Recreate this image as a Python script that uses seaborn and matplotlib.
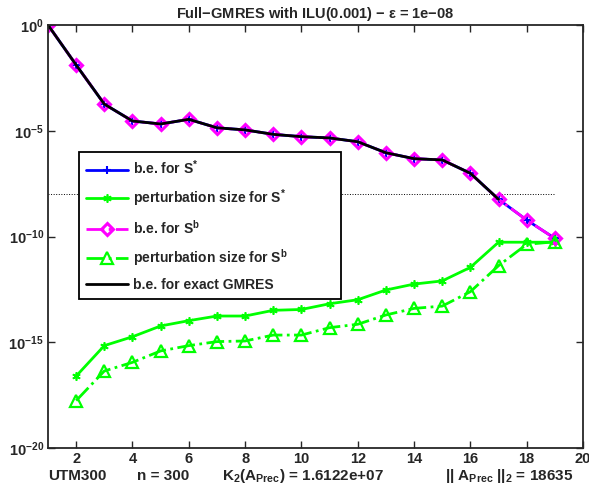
import numpy as np
import matplotlib
matplotlib.use("Agg")
import matplotlib.pyplot as plt
import seaborn as sns
from matplotlib.ticker import FixedLocator, FuncFormatter, NullLocator

# iterations and backward errors (log10 values)
iters = list(range(1, 20))
log_be_sstar = [0, -1.89, -3.74, -4.54, -4.68, -4.46, -4.86, -4.96, -5.17, -5.28,
                -5.34, -5.52, -6.04, -6.32, -6.38, -7.01, -8.24, -9.22, -10.09]
log_be_sb = [0, -1.89, -3.74, -4.54, -4.68, -4.46, -4.86, -4.96, -5.17, -5.28,
             -5.34, -5.52, -6.04, -6.32, -6.38, -7.01, -8.24, -9.22, -10.09]
iters_pert = list(range(2, 20))
log_pert_sstar = [-16.6, -15.16, -14.74, -14.23, -13.98, -13.76, -13.76, -13.49, -13.45,
                  -13.18, -12.99, -12.53, -12.25, -12.10, -11.46, -10.27, -10.27, -10.27]
log_pert_sb = [-17.76, -16.36, -15.95, -15.41, -15.16, -14.97, -14.94, -14.66, -14.66,
               -14.31, -14.15, -13.71, -13.40, -13.29, -12.61, -11.38, -10.37, -10.25]
iters_exact = list(range(1, 18))
log_be_exact = log_be_sstar[:17]
eps = 1e-8

xticks = [2, 4, 6, 8, 10, 12, 14, 16, 18, 20]
yticks = [1e-20, 1e-15, 1e-10, 1e-5, 1e0]

sns.set_style("ticks")
plt.rcParams['font.family'] = ['Liberation Sans', 'DejaVu Sans']
plt.rcParams['font.weight'] = 'bold'
plt.rcParams['mathtext.fontset'] = 'custom'
plt.rcParams['mathtext.rm'] = 'Liberation Sans:bold'
plt.rcParams['mathtext.bf'] = 'Liberation Sans:bold'
plt.rcParams['mathtext.it'] = 'Liberation Sans:bold'

fig = plt.figure(figsize=(5.89, 4.95), dpi=100)
ax = fig.add_axes([48/589, 1 - 448/495, 535/589, 423/495])

ax.plot([1, 19], [eps, eps], color='black', linestyle=':', linewidth=0.7)

# (x, y, label, color, linestyle, marker, size, edge width, face)
series = [
    (iters, log_be_sstar, 'b.e. for S$^{*}$', '#0000ff', '-', '+', 6, 1.5, '#0000ff'),
    (iters_pert, log_pert_sstar, 'perturbation size for S$^{*}$', '#00ff00', '-', (6, 2, 0), 6, 1.2, '#00ff00'),
    (iters, log_be_sb, 'b.e. for S$^{b}$', '#ff00ff', '-.', 'D', 6, 2.2, 'none'),
    (iters_pert, log_pert_sb, 'perturbation size for S$^{b}$', '#00ff00', '-.', '^', 8, 1.6, 'none'),
    (iters_exact, log_be_exact, 'b.e. for exact GMRES', 'black', '-', None, 0, 0, 'black'),
]
for x, ly, lab, col, ls, mk, ms, mew, mfc in series:
    n_before = len(ax.lines)
    sns.lineplot(x=x, y=10**np.array(ly), ax=ax, color=col, label=lab)
    line = ax.lines[n_before]
    line.set_linestyle(ls)
    line.set_linewidth(2)
    if mk is not None:
        line.set_marker(mk)
        line.set_markersize(ms)
        line.set_markeredgewidth(mew)
        line.set_markeredgecolor(col)
        line.set_markerfacecolor(mfc)

ax.set_yscale('log')
ax.set_xlim(1, 20)
ax.set_ylim(1e-20, 1e0)
ax.xaxis.set_major_locator(FixedLocator(xticks))
ax.yaxis.set_major_locator(FixedLocator(yticks))
ax.yaxis.set_minor_locator(NullLocator())
ax.yaxis.set_major_formatter(FuncFormatter(
    lambda v, p: r'$\mathbf{10^{%d}}$' % int(round(np.log10(v)))))
ax.tick_params(direction='in', length=5, width=1, top=True, right=True,
               labelsize=10.5, pad=3)
for lbl in ax.get_xticklabels():
    lbl.set_fontweight('bold')
for s in ax.spines.values():
    s.set_linewidth(1.3)

ax.set_title(r'Full$-$GMRES with ILU(0.001) $-$ $\varepsilon$ = 1e$-$08',
             fontsize=10.5, fontweight='bold', pad=5)

leg = ax.legend(ax.lines[1:], [s[2] for s in series], loc='upper left',
                bbox_to_anchor=(0.058, 0.364, 0.49, 0.336), mode='expand',
                borderaxespad=0,
                fontsize=10, frameon=True, fancybox=False, handlelength=3.0,
                labelspacing=0.72, borderpad=0.5, handletextpad=0.4)
leg.get_frame().set_edgecolor('black')
leg.get_frame().set_linewidth(1.3)
leg.get_frame().set_alpha(1)

fig.text(48/589, 1 - 480/495, 'UTM300', fontsize=11, fontweight='bold')
fig.text(137/589, 1 - 480/495, 'n = 300', fontsize=11, fontweight='bold')
fig.text(222/589, 1 - 480/495, r'K$_2$(A$_{\rm Prec}$) = 1.6122e+07',
         fontsize=11, fontweight='bold')
fig.text(445/589, 1 - 480/495, r'|| A$_{\rm Prec}$ ||$_2$ = 18635',
         fontsize=11, fontweight='bold')

fig.savefig('out.png', dpi=100)
